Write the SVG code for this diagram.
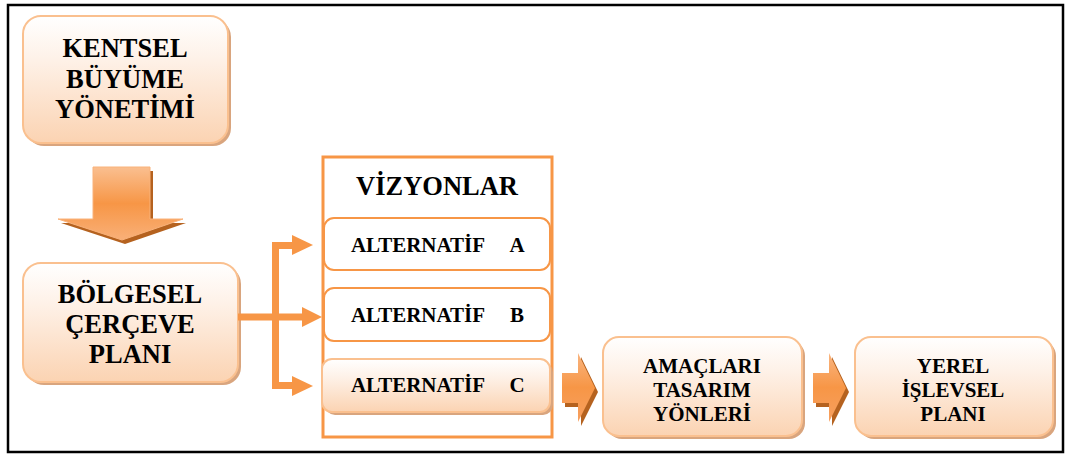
<svg xmlns="http://www.w3.org/2000/svg" width="1070" height="455" viewBox="0 0 1070 455">
<defs>
<linearGradient id="peach" x1="0" y1="0" x2="0" y2="1">
<stop offset="0" stop-color="#FFFFFF"/>
<stop offset="0.35" stop-color="#FEF1E7"/>
<stop offset="1" stop-color="#FBD3B2"/>
</linearGradient>
<linearGradient id="arrowV" x1="0" y1="0" x2="0" y2="1">
<stop offset="0" stop-color="#FABF90"/>
<stop offset="0.5" stop-color="#F79646"/>
<stop offset="1" stop-color="#F9B078"/>
</linearGradient>
<linearGradient id="arrowH" x1="0" y1="0" x2="0" y2="1">
<stop offset="0" stop-color="#F9B580"/>
<stop offset="0.5" stop-color="#F79646"/>
<stop offset="1" stop-color="#F7A060"/>
</linearGradient>
</defs>
<style>
.box{fill:url(#peach);stroke:#FAC08F;stroke-width:2}
.shadow{fill:#D9A57E}
.alt{fill:#FFFFFF;stroke:#F79646;stroke-width:2}
text{font-family:'Liberation Serif','Times New Roman',serif;font-weight:bold;fill:#000;text-anchor:middle}
.big{font-size:26.5px}
.mid{font-size:21px}
.sm{font-size:21px}
.conn{fill:none;stroke:#F79646;stroke-width:7}
</style>
<rect x="8" y="5" width="1055" height="447" fill="#FFFFFF" stroke="#000000" stroke-width="2.5"/>

<g id="kentsel">
<rect class="shadow" x="26" y="19" width="205" height="127" rx="18"/>
<rect class="box" x="23" y="16" width="205" height="127" rx="18"/>
<text class="big" x="125" y="57">KENTSEL</text>
<text class="big" x="125" y="88">BÜYÜME</text>
<text class="big" x="125" y="118">YÖNETİMİ</text>
</g>

<g id="down-arrow">
<polygon points="96,171 153,171 153,223 186,223 125,244 61,223 96,223" fill="#B5621F"/>
<polygon points="93,167 150,167 150,219 183,219 122,240 58,219 93,219" fill="url(#arrowV)" stroke="#F9B27A" stroke-width="1"/>
</g>

<g id="bolgesel">
<rect class="shadow" x="26" y="266" width="215" height="119" rx="18"/>
<rect class="box" x="23" y="263" width="215" height="119" rx="18"/>
<text class="big" x="130" y="303">BÖLGESEL</text>
<text class="big" x="130" y="333">ÇERÇEVE</text>
<text class="big" x="130" y="363">PLANI</text>
</g>

<g id="connectors">
<path class="conn" d="M238,317 H303"/>
<path class="conn" d="M275.5,242 V389"/>
<path class="conn" d="M272,245.5 H293"/>
<path class="conn" d="M272,385.5 H293"/>
<polygon points="292,235 313,245 292,255" fill="#F79646"/>
<polygon points="302,307 322,317 302,327" fill="#F79646"/>
<polygon points="292,376 313,386 292,396" fill="#F79646"/>
</g>

<g id="vizyonlar">
<rect x="323" y="157" width="229" height="280" fill="#FFFFFF" stroke="#F79646" stroke-width="3"/>
<text style="font-size:26.5px" x="437" y="195">VİZYONLAR</text>
</g>

<g id="alt-a">
<rect class="alt" x="324" y="218" width="226" height="52" rx="10"/>
<text class="mid" x="418" y="252">ALTERNATİF</text>
<text class="mid" x="517" y="252">A</text>
</g>

<g id="alt-b">
<rect class="alt" x="324" y="288" width="226" height="53" rx="10"/>
<text class="mid" x="418" y="322">ALTERNATİF</text>
<text class="mid" x="517" y="322">B</text>
</g>

<g id="alt-c">
<rect class="shadow" x="325" y="362" width="228" height="53" rx="10"/>
<rect class="box" x="322" y="359" width="228" height="53" rx="10"/>
<text class="mid" x="418" y="392">ALTERNATİF</text>
<text class="mid" x="517" y="392">C</text>
</g>

<g id="arrow-1">
<polygon points="565,377 581,377 581,357 598,392 581,426 581,407 565,407" fill="#B5621F"/>
<polygon points="562,373 578,373 578,353 595,388 578,422 578,403 562,403" fill="url(#arrowH)"/>
</g>

<g id="amaclari">
<rect class="shadow" x="606" y="340" width="199" height="99" rx="16"/>
<rect class="box" x="603" y="337" width="199" height="99" rx="16"/>
<text class="sm" x="702" y="373">AMAÇLARI</text>
<text class="sm" x="702" y="397">TASARIM</text>
<text class="sm" x="702" y="421">YÖNLERİ</text>
</g>

<g id="arrow-2">
<polygon points="816,377 832,377 832,357 849,392 832,426 832,407 816,407" fill="#B5621F"/>
<polygon points="813,373 829,373 829,353 846,388 829,422 829,403 813,403" fill="url(#arrowH)"/>
</g>

<g id="yerel">
<rect class="shadow" x="858" y="340" width="198" height="99" rx="16"/>
<rect class="box" x="855" y="337" width="198" height="99" rx="16"/>
<text class="sm" x="953" y="373">YEREL</text>
<text class="sm" x="953" y="397">İŞLEVSEL</text>
<text class="sm" x="953" y="421">PLANI</text>
</g>
</svg>
